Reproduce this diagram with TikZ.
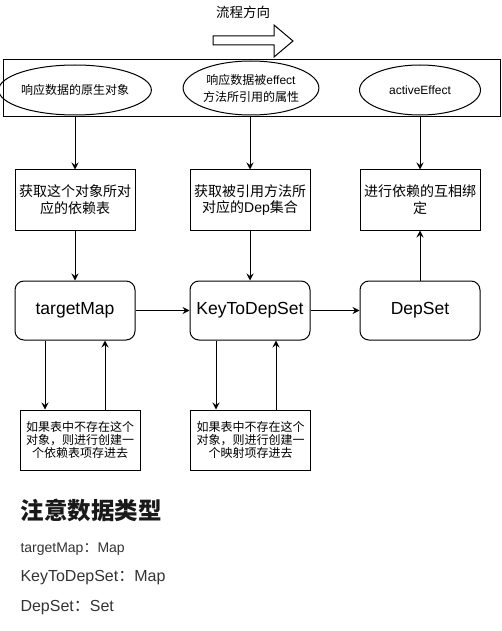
\documentclass[tikz,border=0pt]{standalone}
\usepackage{fontspec}
\setmainfont{Liberation Sans}
\newfontfamily\cjk{Noto Sans CJK SC}
\usetikzlibrary{arrows.meta,shapes.geometric}
\begin{document}
\begin{tikzpicture}[x=1pt,y=-1pt,
  line width=1pt,
  arr/.style={-{Stealth[length=7pt,width=7pt,inset=2.5pt]}},
  box/.style={draw,rectangle,minimum width=120pt,minimum height=60pt,inner sep=0pt,align=center},
  midbox/.style={box,font=\fontsize{14}{16.7}\selectfont},
  lowbox/.style={box,font=\fontsize{12}{13.3}\selectfont},
  rbox/.style={box,rounded corners=9pt,minimum height=59pt,font=\fontsize{17.5}{20}\selectfont},
  ell/.style={draw,ellipse,inner sep=0pt,align=center,font=\fontsize{12}{17}\selectfont},
  note/.style={anchor=west,inner sep=0pt,text=black!80},
]
\useasboundingbox (0,0) rectangle (501,631);

% flow direction
\node[font=\cjk\fontsize{13.5}{16}\selectfont] (flow) at (243,12) {流程方向};
\draw (213,36) -- (274,36) -- (274,25) -- (293,41) -- (274,57) -- (274,45) -- (213,45) -- cycle;

% top container
\node[draw,rectangle,minimum width=497pt,minimum height=57pt,inner sep=0pt] (top) at (251.5,88.5) {};
\node[ell,minimum width=120pt,minimum height=50pt] (e1) at (75,90) {{\cjk 响应数据的原生对象}};
\node[ell,minimum width=122pt,minimum height=54pt] (e2) at (251,88) {{\cjk 响应数据被}effect\\{\cjk 方法所引用的属性}};
\node[ell,minimum width=121pt,minimum height=50pt] (e3) at (420,90) {activeEffect};

% middle boxes
\node[midbox] (b1) at (75,200) {{\cjk 获取这个对象所对}\\{\cjk 应的依赖表}};
\node[midbox] (b2) at (250,200) {{\cjk 获取被引用方法所}\\{\cjk 对应的}Dep{\cjk 集合}};
\node[midbox] (b3) at (420,200) {{\cjk 进行依赖的互相绑}\\{\cjk 定}};

% rounded boxes
\node[rbox] (r1) at (75,310.5) {targetMap};
\node[rbox] (r2) at (250,310.5) {KeyToDepSet};
\node[rbox] (r3) at (420,310.5) {DepSet};

% lower boxes
\node[lowbox] (c1) at (80,440) {{\cjk 如果表中不存在这个}\\{\cjk 对象，则进行创建一}\\{\cjk 个依赖表项存进去}};
\node[lowbox] (c2) at (250.5,440) {{\cjk 如果表中不存在这个}\\{\cjk 对象，则进行创建一}\\{\cjk 个映射项存进去}};

% connectors
\draw[arr] (top.south -| b1.north) -- (b1.north);
\draw[arr] (top.south -| b2.north) -- (b2.north);
\draw[arr] (top.south -| b3.north) -- (b3.north);
\draw[arr] (b1.south) -- (r1.north);
\draw[arr] (b2.south) -- (r2.north);
\draw[arr] (r3.north) -- (b3.south);
\draw[arr] (r1.east) -- (r2.west);
\draw[arr] (r2.east) -- (r3.west);
\draw[arr] ([xshift=-30pt]r1.south) -- ([xshift=-30pt]r1.south |- c1.north);
\draw[arr] ([xshift=30pt]r1.south |- c1.north) -- ([xshift=30pt]r1.south);
\draw[arr] ([xshift=-34pt]r2.south) -- ([xshift=-34pt]r2.south |- c2.north);
\draw[arr] ([xshift=26pt]r2.south |- c2.north) -- ([xshift=26pt]r2.south);

% notes
\node[anchor=west,inner sep=0pt,font=\cjk\bfseries\fontsize{23.5}{26}\selectfont,text=black!90] (ttl) at (20,510) {注意数据类型};
\node[note,font=\fontsize{14}{16}\selectfont] (t1) at (20,549) {targetMap{\cjk ：}Map};
\node[note,font=\fontsize{16}{18}\selectfont] (t2) at (20,578) {KeyToDepSet{\cjk ：}Map};
\node[note,font=\fontsize{16}{18}\selectfont] (t3) at (20,608) {DepSet{\cjk ：}Set};
\end{tikzpicture}
\end{document}
